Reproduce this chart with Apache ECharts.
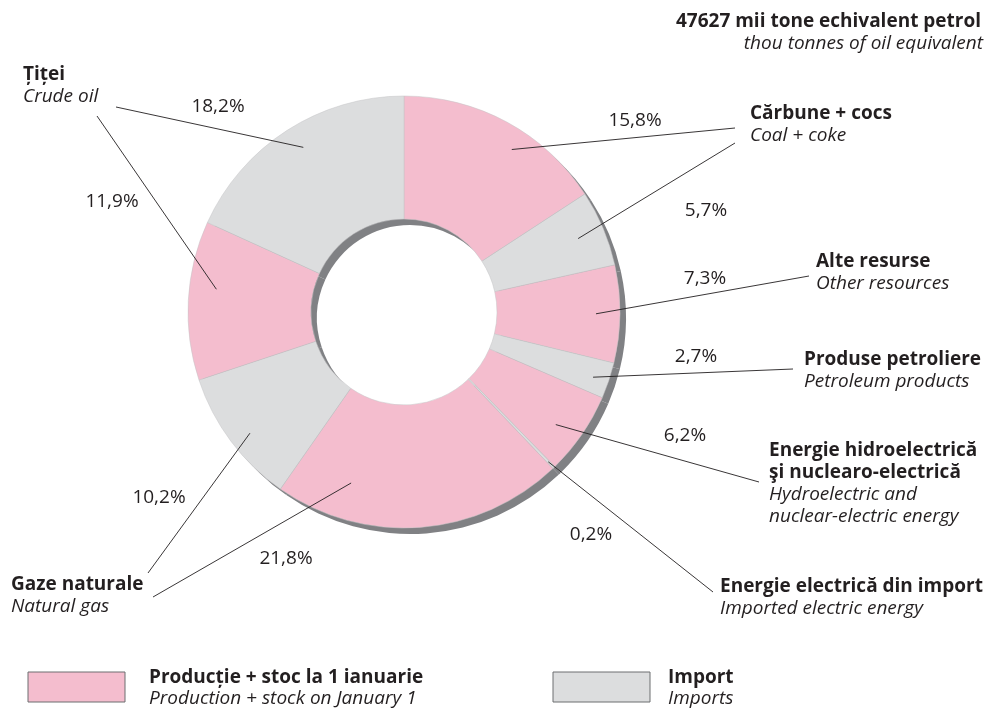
<!DOCTYPE html>
<html>
<head>
<meta charset="utf-8">
<script src="https://cdn.jsdelivr.net/npm/echarts@6/dist/echarts.min.js"></script>
<style>
  html, body { margin: 0; padding: 0; background: #ffffff; }
  #chart { width: 990px; height: 709px; }
</style>
</head>
<body>
<div id="chart"></div>
<script>
// Resource structure, clockwise from 12 o'clock (percent of total)
const sliceNames = [
  'Cărbune + cocs – producție + stoc',
  'Cărbune + cocs – import',
  'Alte resurse',
  'Produse petroliere – import',
  'Energie hidroelectrică şi nuclearo-electrică',
  'Energie electrică din import',
  'Gaze naturale – producție + stoc',
  'Gaze naturale – import',
  'Țiței – producție + stoc',
  'Țiței – import'
];
const sliceShares = [15.8, 5.7, 7.3, 2.7, 6.2, 0.2, 21.8, 10.2, 11.9, 18.2];
const sliceSources = ['prod', 'import', 'prod', 'import', 'prod', 'import', 'prod', 'import', 'prod', 'import'];

const totalValue = '47627 mii tone echivalent petrol';
const totalUnitEn = 'thou tonnes of oil equivalent';

const groupTitlesRo = [
  ['Cărbune + cocs'],
  ['Alte resurse'],
  ['Produse petroliere'],
  ['Energie hidroelectrică', 'şi nuclearo-electrică'],
  ['Energie electrică din import'],
  ['Gaze naturale'],
  ['Țiței']
];
const groupTitlesEn = [
  ['Coal + coke'],
  ['Other resources'],
  ['Petroleum products'],
  ['Hydroelectric and', 'nuclear-electric energy'],
  ['Imported electric energy'],
  ['Natural gas'],
  ['Crude oil']
];

const legendRo = { prod: 'Producție + stoc la 1 ianuarie', import: 'Import' };
const legendEn = { prod: 'Production + stock on January 1', import: 'Imports' };

// ---- layout ----
const CX = 404, CY = 312, R_IN = 93, R_OUT = 216, SHADOW = 6;
const COLORS = { prod: '#f4bdce', import: '#dcddde' };
const SHADOW_COLOR = '#808184';
const INK = '#231f20';
const FONT = '"Open Sans", "Noto Sans", sans-serif';
const SIZE = 19;
const LINE_H = 22;

// where each leader line starts inside its slice (fraction of slice span, radius)
const anchorFrac = [0.59, 0.5, 0.5, 0.55, 0.59, 0.5, 0.774, 0.46, 0.59, 0.52];
const anchorR    = [195, 189, 192, 200, 189, 208, 179, 196, 189, 193];
// where each leader line ends (next to its group title)
const leaderEnd = [[735,128],[735,143],[809,276],[793,369],[759,482],[713,592],[153,597],[148,573],[97,116],[116,107]];
// centre of each percentage label
const pctPos = [[635,121],[706,211],[705,279],[696,357],[685,436],[591,535],[286,559],[159,498],[112,202],[218,107]];
// left edge / first line centre of each group title block
const groupPos = [[750,114],[816,262],[804,360],[769,451],[720,587],[11,585],[23,75]];

const chart = echarts.init(document.getElementById('chart'), null, { renderer: 'canvas' });

const pieData = sliceShares.map((v, i) => ({
  name: sliceNames[i],
  value: v,
  itemStyle: { color: COLORS[sliceSources[i]] }
}));

const graphics = [];

// leader lines + percentage labels
const total = sliceShares.reduce((a, b) => a + b, 0);
let acc = 0;
sliceShares.forEach((v, i) => {
  const a0 = acc / total * 360;
  acc += v;
  const a1 = acc / total * 360;
  const th = (a0 + anchorFrac[i] * (a1 - a0)) * Math.PI / 180;
  const ax = CX + anchorR[i] * Math.sin(th);
  const ay = CY - anchorR[i] * Math.cos(th);
  graphics.push({
    type: 'line', silent: true, z: 10,
    shape: { x1: ax, y1: ay, x2: leaderEnd[i][0], y2: leaderEnd[i][1] },
    style: { stroke: INK, lineWidth: 0.9 }
  });
  graphics.push({
    type: 'text', silent: true, z: 10,
    x: pctPos[i][0], y: pctPos[i][1],
    style: {
      text: v.toFixed(1).replace('.', ',') + '%',
      font: `${SIZE}px ${FONT}`, fill: INK, align: 'center', verticalAlign: 'middle'
    }
  });
});

// group titles: bold Romanian lines, italic English lines
groupTitlesRo.forEach((ro, g) => {
  const lines = ro.map(t => ({ t, bold: true })).concat(groupTitlesEn[g].map(t => ({ t, bold: false })));
  lines.forEach((ln, k) => {
    graphics.push({
      type: 'text', silent: true, z: 10,
      x: groupPos[g][0], y: groupPos[g][1] + k * LINE_H,
      style: {
        text: ln.t,
        font: `${ln.bold ? 'bold' : 'italic'} ${SIZE}px ${FONT}`,
        fill: INK, align: 'left', verticalAlign: 'middle'
      }
    });
  });
});

// total in the top-right corner
graphics.push({
  type: 'text', silent: true, x: 981, y: 22,
  style: { text: totalValue, font: `bold ${SIZE}px ${FONT}`, fill: INK, align: 'right', verticalAlign: 'middle' }
});
graphics.push({
  type: 'text', silent: true, x: 983, y: 44,
  style: { text: totalUnitEn, font: `italic ${SIZE}px ${FONT}`, fill: INK, align: 'right', verticalAlign: 'middle' }
});

// legend
[['prod', 28, 149], ['import', 553, 668]].forEach(([key, bx, tx]) => {
  graphics.push({
    type: 'rect', silent: true,
    shape: { x: bx, y: 672, width: 97, height: 30 },
    style: { fill: COLORS[key], stroke: '#6d6e71', lineWidth: 1 }
  });
  graphics.push({
    type: 'text', silent: true, x: tx, y: 678,
    style: { text: legendRo[key], font: `bold ${SIZE}px ${FONT}`, fill: INK, align: 'left', verticalAlign: 'middle' }
  });
  graphics.push({
    type: 'text', silent: true, x: tx, y: 699,
    style: { text: legendEn[key], font: `italic ${SIZE}px ${FONT}`, fill: INK, align: 'left', verticalAlign: 'middle' }
  });
});

const baseSeries = {
  type: 'pie',
  radius: [R_IN, R_OUT],
  startAngle: 90,
  clockwise: true,
  avoidLabelOverlap: false,
  label: { show: false },
  labelLine: { show: false },
  emphasis: { disabled: true },
  silent: true,
  animation: false
};

chart.setOption({
  animation: false,
  backgroundColor: '#ffffff',
  series: [
    Object.assign({}, baseSeries, {
      name: 'umbra',
      center: [CX + SHADOW, CY + SHADOW],
      z: 1,
      data: sliceShares.map((v, i) => ({ name: sliceNames[i], value: v })),
      itemStyle: { color: SHADOW_COLOR, borderWidth: 0 }
    }),
    Object.assign({}, baseSeries, {
      name: 'Resurse',
      center: [CX, CY],
      z: 2,
      data: pieData,
      itemStyle: { borderColor: '#c4c4c6', borderWidth: 0.5 }
    })
  ],
  graphic: { elements: graphics }
});
</script>
</body>
</html>
